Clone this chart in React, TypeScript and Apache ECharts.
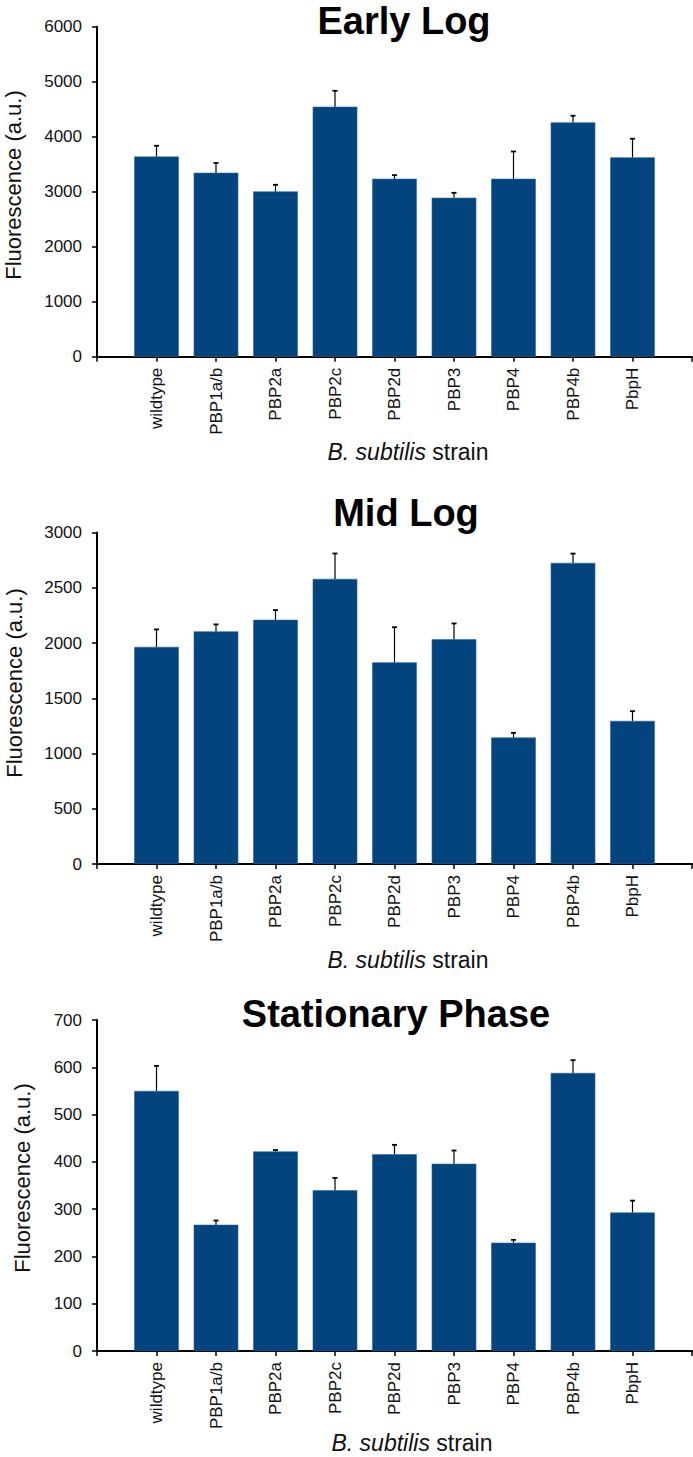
import React, { useEffect, useRef } from "react";
import * as echarts from "echarts";

const categories = ["wildtype", "PBP1a/b", "PBP2a", "PBP2c", "PBP2d", "PBP3", "PBP4", "PBP4b", "PbpH"];

const earlyLog = [3640, 3345, 3005, 4545, 3235, 2890, 3235, 4260, 3625];
const earlyLogErr = [195, 176, 121, 290, 66, 90, 496, 121, 338];

const midLog = [1965, 2105, 2210, 2580, 1825, 2035, 1145, 2725, 1295];
const midLogErr = [158, 63, 88, 230, 318, 142, 42, 84, 88];

const stationary = [550, 267, 422, 340, 416, 396, 229, 588, 293];
const stationaryErr = [53, 9, 3, 26, 20, 28, 6, 27, 25];

const titles = ["Early Log", "Mid Log", "Stationary Phase"];
const yMax = [6000, 3000, 700];
const yInterval = [1000, 500, 100];
const yName = "Fluorescence (a.u.)";

const BAR = "#03447f";
const FONT = "'Liberation Sans', Arial, sans-serif";

const layout = [
  { top: 26.7, height: 330, titleX: 404, titleY: 21, nameX: 13, nameY: 185, xTitleX: 408, xTitleY: 452 },
  { top: 532.5, height: 331.5, titleX: 406, titleY: 513, nameX: 14, nameY: 683, xTitleX: 408, xTitleY: 960 },
  { top: 1020, height: 331, titleX: 396, titleY: 1014, nameX: 22, nameY: 1178, xTitleX: 412, xTitleY: 1443 },
];

export default function App() {
  const ref = useRef<HTMLDivElement>(null);
  useEffect(() => {
    if (!ref.current) return;
    const chart = echarts.init(ref.current, undefined, { renderer: "svg" });
    const datasets = [
      [earlyLog, earlyLogErr],
      [midLog, midLogErr],
      [stationary, stationaryErr],
    ];
    const axisCats = ["", ...categories, ""];
    const grids: any[] = [];
    const xAxes: any[] = [];
    const yAxes: any[] = [];
    const series: any[] = [];
    const graphics: any[] = [];
    datasets.forEach(([vals, errs], k) => {
      const L = layout[k];
      grids.push({ left: 97, right: 1, top: L.top, height: L.height, containLabel: false });
      xAxes.push({
        type: "category",
        gridIndex: k,
        data: axisCats,
        boundaryGap: false,
        axisLine: { lineStyle: { color: "#000", width: 2 } },
        axisTick: { show: true, length: 5, interval: 0, lineStyle: { color: "#000", width: 1.5 } },
        axisLabel: {
          interval: 0,
          rotate: 90,
          margin: 11,
          fontSize: 17,
          color: "#111",
          fontFamily: FONT,
        },
        splitLine: { show: false },
      });
      yAxes.push({
        type: "value",
        gridIndex: k,
        min: 0,
        max: yMax[k],
        interval: yInterval[k],
        axisLine: { show: true, lineStyle: { color: "#000", width: 2 } },
        axisTick: { show: true, length: 5, lineStyle: { color: "#000", width: 1.5 } },
        axisLabel: {
          margin: 15,
          fontSize: 17,
          color: "#111",
          fontFamily: FONT,
          formatter: (v: number) => String(v),
        },
        splitLine: { show: false },
      });
      series.push({
        type: "bar",
        xAxisIndex: k,
        yAxisIndex: k,
        data: ["-", ...vals, "-"],
        barWidth: "75%",
        itemStyle: { color: BAR, borderColor: "#2d64a0", borderWidth: 0.6 },
      });
      series.push({
        type: "custom",
        xAxisIndex: k,
        yAxisIndex: k,
        z: 5,
        data: vals.map((v, i) => [i + 1, v, errs[i]]),
        renderItem: (params: any, api: any) => {
          const x = api.value(0);
          const v = api.value(1);
          const e = api.value(2);
          const p0 = api.coord([x, v]);
          const p1 = api.coord([x, v + e]);
          return {
            type: "group",
            children: [
              { type: "line", shape: { x1: p0[0], y1: p0[1], x2: p1[0], y2: p1[1] }, style: { stroke: "#000", lineWidth: 1.2 } },
              { type: "line", shape: { x1: p1[0] - 2.5, y1: p1[1], x2: p1[0] + 2.5, y2: p1[1] }, style: { stroke: "#000", lineWidth: 1.8 } },
            ],
          };
        },
      });
      graphics.push({
        type: "text",
        x: L.titleX,
        y: L.titleY,
        style: {
          text: titles[k],
          font: `bold 38px ${FONT}`,
          fill: "#000",
          align: "center",
          verticalAlign: "middle",
        },
      });
      graphics.push({
        type: "text",
        x: L.nameX,
        y: L.nameY,
        rotation: Math.PI / 2,
        style: {
          text: yName,
          font: `22px ${FONT}`,
          fill: "#111",
          align: "center",
          verticalAlign: "middle",
        },
      });
      graphics.push({
        type: "text",
        x: L.xTitleX,
        y: L.xTitleY,
        style: {
          text: "{i|B. subtilis} {n|strain}",
          align: "center",
          verticalAlign: "middle",
          rich: {
            i: { fontStyle: "italic", fontSize: 23, fontFamily: FONT, fill: "#111" },
            n: { fontSize: 23, fontFamily: FONT, fill: "#111" },
          },
          fontSize: 23,
          fontFamily: FONT,
          fill: "#111",
        },
      });
    });
    chart.setOption({
      animation: false,
      backgroundColor: "#fff",
      grid: grids,
      xAxis: xAxes,
      yAxis: yAxes,
      series,
      graphic: graphics,
    });
    return () => chart.dispose();
  }, []);
  return (
    <div
      ref={ref}
      style={{ position: "absolute", left: 0, top: 0, width: 693, height: 1457, background: "#fff" }}
    />
  );
}
